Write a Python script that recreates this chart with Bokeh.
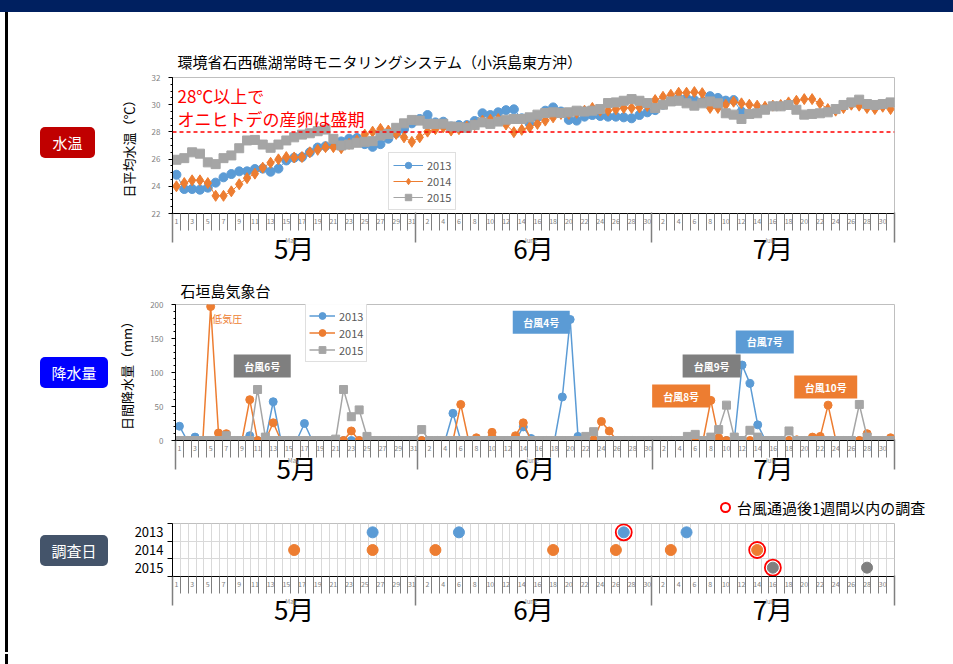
from bokeh.plotting import figure
from bokeh.models import (Range1d, FixedTicker, LinearAxis, Legend, LegendItem, Label, Span, Div)
from bokeh.layouts import column, row
from bokeh.embed import file_html
from bokeh.resources import INLINE
from bokeh.core.properties import value

nan = float("nan")
FONT = "Noto Sans CJK JP"
BLUE, ORANGE, GRAY, DGRAY = "#5B9BD5", "#ED7D31", "#A5A5A5", "#7F7F7F"

# day index 1..92 = May 1 .. July 31
days = list(range(1, 93))
day_labels = {}
for d in range(1, 32, 2):
    day_labels[d] = str(d)
for d in range(2, 31, 2):
    day_labels[31 + d] = str(d)
    day_labels[61 + d] = str(d)
month_centers = [16, 46.5, 77]
month_labels = ["5月", "6月", "7月"]
month_en = ["May", "June", "July"]

# ---- water temperature (daily mean, deg C)
temp_2013 = [24.85, 23.8, 23.8, 23.75, 23.9, 24.27, 24.66, 24.9, 25.1, 25.1, 25.27, 25.3, 25.07, 25.3, 25.9,
             26.1, 26.15, 26.5, 26.85, 26.95, 27.05, 27.3, 27.5, 27.55, 27.1, 26.9, 27.1, 27.5, 27.9, 28.2, 28.63,
             28.95, 29.24, 28.7, 28.75, 28.4, 28.5, 28.5, 28.8, 29.37, 29.24, 29.44, 29.6, 29.66, 29.0, 28.63,
             29.07, 29.56, 29.8, 29.5, 28.88, 28.83, 29.12, 29.24, 29.17, 29.12, 29.12, 29.07, 29.0, 29.24, 29.44,
             29.6, 30.0, 30.3, 30.46, 30.46, 30.34, 30.2, 30.63, 30.5, 30.3, 30.34, 29.5] + [nan] * 19
temp_2014 = [24.0, 24.24, 24.44, 24.44, 24.24, 23.3, 23.3, 23.63, 24.15, 24.6, 24.93, 25.37, 25.73, 25.98, 26.15,
             26.12, 26.15, 26.5, 26.68, 26.88, 26.88, 26.8, 27.12, 27.37, 27.8, 28.02, 28.22, 28.1, 27.85, 27.6, 27.27,
             27.6, 28.02, 28.2, 28.34, 28.1, 28.2, 28.4, 28.5, 28.83, 28.9, 28.95, 28.54, 27.98, 28.15, 28.34,
             28.59, 28.83, 29.07, 29.32, 29.32, 29.4, 29.56, 29.76, 29.56, 29.56, 29.66, 29.76, 29.76, 29.8, 29.9,
             30.34, 30.58, 30.73, 30.88, 30.88, 30.93, 30.85, 29.76, 29.76, 30.0, 30.22, 30.1, 30.0, 29.93, 29.85,
             29.93, 29.98, 30.17, 30.29, 30.41, 30.41, 30.1, 29.68, 29.56, 29.76, 30.0, 29.93, 29.76, 29.68, 29.85, 29.68]
temp_2015 = [25.95, 26.07, 26.5, 26.4, 25.76, 25.63, 26.07, 26.27, 26.8, 27.37, 27.41, 27.07, 26.83, 27.07, 27.37,
             27.6, 27.8, 27.9, 28.05, 28.17, 27.49, 27.0, 27.07, 27.2, 27.27, 27.32, 27.73, 27.85, 28.3, 28.63, 28.88,
             28.83, 28.59, 28.59, 28.6, 28.4, 28.35, 28.3, 28.5, 28.7, 28.59, 28.76, 28.9, 28.95, 28.95, 29.07,
             29.27, 29.39, 29.44, 29.39, 29.44, 29.56, 29.5, 29.56, 29.68, 30.12, 30.17, 30.29, 30.41, 30.29, 30.12,
             29.76, 30.0, 30.24, 30.29, 30.1, 29.93, 30.1, 30.24, 30.1, 29.37, 29.27, 28.95, 29.32, 29.37, 29.63,
             29.88, 29.88, 29.98, 29.63, 29.27, 29.32, 29.37, 29.44, 29.68, 29.98, 30.17, 30.37, 30.05, 29.98, 30.05, 30.17]
threshold = 28

# ---- daily rainfall (mm); listed days are non-zero, all others 0
rain_2013_nz = {1: 21, 3: 5, 10: 7, 13: 57, 17: 25, 36: 40, 45: 20, 46: 3, 50: 64, 51: 178, 52: 6,
                70: 2, 73: 111, 74: 84, 75: 23}
rain_2014_nz = {5: 197, 6: 11, 7: 10, 10: 60, 13: 26, 23: 14, 37: 53, 39: 4, 41: 12, 44: 7, 45: 26, 54: 1,
                55: 28, 56: 14, 69: 59, 70: 4, 80: 1, 82: 5, 83: 6, 84: 52, 89: 10, 92: 4}
rain_2015_nz = {7: 7, 11: 75, 12: 5, 21: 2, 22: 75, 23: 35, 24: 45, 25: 6, 32: 16, 53: 6, 54: 13, 66: 6,
                67: 9, 69: 5, 70: 16, 71: 52, 72: 5, 74: 15, 75: 5, 79: 14, 88: 53, 89: 5}
rain_2013 = [rain_2013_nz.get(d, 0) for d in days]
rain_2014 = [rain_2014_nz.get(d, 0) for d in days]
rain_2015 = [rain_2015_nz.get(d, 0) for d in days]

typhoon_text = ["台風6号", "台風4号", "台風7号", "台風9号", "台風8号", "台風10号"]
typhoon_x = [11.6, 47.3, 75.9, 69.1, 65.2, 83.7]
typhoon_y = [109.5, 174, 145, 109.5, 65.4, 78.6]
typhoon_w = [57, 57, 58, 58, 58, 63]
typhoon_color = [DGRAY, BLUE, BLUE, DGRAY, ORANGE, ORANGE]

# ---- survey days
survey = {2013: [26, 37, 58, 66], 2014: [16, 26, 34, 49, 57, 64, 75], 2015: [77, 89]}
survey_color = {2013: BLUE, 2014: ORANGE, 2015: DGRAY}
after_typhoon_day = [58, 75, 77]
after_typhoon_year = [2013, 2014, 2015]
year_row = {2013: 2.5, 2014: 1.5, 2015: 0.5}

boundaries = [d + 0.5 for d in range(0, 93)]
month_bounds = [0.5, 31.5, 61.5, 92.5]


def add_date_axes(p, month_standoff):
    ax = LinearAxis(ticker=FixedTicker(ticks=sorted(day_labels), minor_ticks=boundaries))
    ax.major_label_overrides = dict(day_labels)
    ax.major_tick_out = 0
    ax.major_tick_in = 0
    ax.minor_tick_out = 17
    ax.minor_tick_in = 0
    ax.minor_tick_line_color = "#7F7F7F"
    ax.axis_line_color = "black"
    ax.major_label_text_font_size = "7px"
    ax.major_label_text_color = "#808080"
    ax.major_label_text_font = FONT
    ax.major_label_standoff = -13
    p.add_layout(ax, "below")
    ax2 = LinearAxis(ticker=FixedTicker(ticks=month_centers, minor_ticks=month_bounds))
    ax2.major_label_overrides = dict(zip(month_centers, month_labels))
    ax2.axis_line_color = None
    ax2.major_tick_out = 0
    ax2.major_tick_in = 0
    ax2.minor_tick_in = 14
    ax2.minor_tick_out = 16
    ax2.minor_tick_line_color = "#7F7F7F"
    ax2.minor_tick_line_width = 1.5
    ax2.major_label_text_font_size = "26px"
    ax2.major_label_text_font = FONT
    ax2.major_label_text_color = "black"
    ax2.major_label_standoff = month_standoff
    p.add_layout(ax2, "below")
    en_pos = [c - 0.4 for c in month_centers]
    ax3 = LinearAxis(ticker=FixedTicker(ticks=en_pos))
    ax3.major_label_overrides = dict(zip(en_pos, month_en))
    ax3.axis_line_color = None
    ax3.major_tick_out = 0
    ax3.major_tick_in = 0
    ax3.major_label_text_font_size = "6px"
    ax3.major_label_text_font = FONT
    ax3.major_label_text_color = "#8C8C8C"
    ax3.major_label_standoff = -33
    p.add_layout(ax3, "below")


def style_yaxis(ax, ticks, minors, label):
    ax.ticker = FixedTicker(ticks=ticks, minor_ticks=minors)
    ax.axis_line_color = "black"
    ax.major_tick_line_color = "black"
    ax.minor_tick_line_color = "black"
    ax.major_tick_out = 4
    ax.major_tick_in = 0
    ax.minor_tick_out = 2
    ax.minor_tick_in = 0
    ax.major_label_text_font_size = "8px"
    ax.major_label_text_color = "#7F7F7F"
    ax.major_label_text_font = FONT
    ax.major_label_standoff = 8
    ax.axis_label = label
    ax.axis_label_text_font = FONT
    ax.axis_label_text_font_size = "13px"
    ax.axis_label_text_font_style = "normal"
    ax.axis_label_text_color = "black"
    ax.axis_label_standoff = 11


def left_div(height, inner="", width=114):
    html = (f'<div style="margin-left:5px;border-left:3px solid #000;height:{height}px;">{inner}</div>')
    return Div(text=html, width=width, height=height, margin=0)


def tag_div(text, top, w, color, height):
    inner = (f'<div style="padding-top:{top}px;padding-left:32px;">'
             f'<div style="width:{w}px;height:31px;line-height:31px;background:{color};color:white;'
             f'border-radius:5px;text-align:center;font-family:\'Noto Sans CJK JP\';font-size:15px;">'
             f'{text}</div></div>')
    return left_div(height, inner)


FW = 839
common = dict(width=FW, output_backend="svg", toolbar_location=None, x_axis_location=None,
              min_border_left=58, min_border_right=59, x_range=Range1d(0.5, 92.5))

# ================= panel 1 : water temperature
H1 = 259
p1 = figure(height=H1, y_range=Range1d(22, 32), min_border_top=65, min_border_bottom=58,
            title="環境省石西礁湖常時モニタリングシステム（小浜島東方沖）", **common)
p1.grid.visible = False
p1.outline_line_color = "#BFBFBF"
p1.title.text_font = FONT
p1.title.text_font_size = "15px"
p1.title.text_font_style = "normal"
p1.title.text_color = "black"
p1.title.offset = 5
p1.title.standoff = 11
style_yaxis(p1.yaxis[0], [22, 24, 26, 28, 30, 32], [x / 2 for x in range(44, 65)], "日平均水温（℃）")
add_date_axes(p1, -14)
p1.add_layout(Span(location=threshold, dimension="width", line_color="#FF0000", line_dash="4 3", line_width=1.5))
items = []
for yr, data, col, mk in [("2013", temp_2013, BLUE, "circle"), ("2014", temp_2014, ORANGE, "diamond"),
                          ("2015", temp_2015, GRAY, "square")]:
    l = p1.line(days, data, line_color=col, line_width=1)
    s = p1.scatter(days, data, marker=mk, size=9 if mk != "diamond" else 11, fill_color=col, line_color=col)
    items.append(LegendItem(label=yr, renderers=[l, s]))
leg = Legend(items=items, location=(216, 3), label_text_font_size="11px", label_text_color="#595959",
             label_text_font=FONT, glyph_width=30, glyph_height=16, spacing=0, padding=4, margin=0,
             border_line_color="#BFBFBF", label_standoff=4)
p1.add_layout(leg)
p1.add_layout(Label(x=5, y=118, x_units="screen", y_units="screen", text="28℃以上で", text_color="#FF0000",
                    text_font=FONT, text_font_size="17px", text_baseline="middle"))
p1.add_layout(Label(x=5, y=95, x_units="screen", y_units="screen", text="オニヒトデの産卵は盛期",
                    text_color="#FF0000", text_font=FONT, text_font_size="17px", text_baseline="middle"))

# ================= panel 2 : rainfall
H2 = 227
p2 = figure(height=H2, y_range=Range1d(0, 200), min_border_top=33, min_border_bottom=58,
            title="石垣島気象台", **common)
p2.grid.visible = False
p2.outline_line_color = "#BFBFBF"
p2.title.text_font = FONT
p2.title.text_font_size = "15px"
p2.title.text_font_style = "normal"
p2.title.text_color = "black"
p2.title.offset = 5
p2.title.standoff = 8
style_yaxis(p2.yaxis[0], [0, 50, 100, 150, 200], list(range(0, 201, 10)), "日間降水量（mm）")
add_date_axes(p2, -21)
items = []
for yr, data, col, mk in [("2013", rain_2013, BLUE, "circle"), ("2014", rain_2014, ORANGE, "circle"),
                          ("2015", rain_2015, GRAY, "square")]:
    l = p2.line(days, data, line_color=col, line_width=1.5)
    s = p2.scatter(days, data, marker=mk, size=8, fill_color=col, line_color=col)
    items.append(LegendItem(label=yr, renderers=[l, s]))
leg2 = Legend(items=items, location=(130, 78), label_text_font_size="11px", label_text_color="#595959",
              label_text_font=FONT, glyph_width=26, glyph_height=17, spacing=0, padding=3, margin=0,
              border_line_color="#BFBFBF", label_standoff=4)
p2.add_layout(leg2)
p2.rect(typhoon_x, typhoon_y, width=typhoon_w, height=23, width_units="screen", height_units="screen",
        fill_color=typhoon_color, line_color=None)
p2.text(typhoon_x, typhoon_y, text=typhoon_text, text_color="white", text_font=value(FONT),
        text_font_size="10px", text_font_style="bold", text_align="center", text_baseline="middle")
p2.add_layout(Label(x=5.2, y=179, text="低気圧", text_color=ORANGE, text_font=FONT, text_font_size="10px",
                    text_baseline="middle"))

# ================= panel 3 : survey days
H3 = 135
p3 = figure(height=H3, y_range=Range1d(0, 3), min_border_top=6, min_border_bottom=76, **common)
p3.outline_line_color = "#BFBFBF"
p3.xgrid.ticker = FixedTicker(ticks=boundaries)
p3.ygrid.ticker = FixedTicker(ticks=[1, 2])
p3.grid.grid_line_color = "#D9D9D9"
ya = p3.yaxis[0]
ya.ticker = FixedTicker(ticks=[0.5, 1.5, 2.5], minor_ticks=[0, 1, 2, 3])
ya.major_label_overrides = {2.5: "2013", 1.5: "2014", 0.5: "2015"}
ya.major_tick_out = 0
ya.major_tick_in = 0
ya.minor_tick_out = 5
ya.minor_tick_in = 0
ya.minor_tick_line_color = "black"
ya.axis_line_color = "black"
ya.major_label_text_font = FONT
ya.major_label_text_font_size = "13px"
ya.major_label_text_color = "black"
ya.major_label_standoff = 4
add_date_axes(p3, -16)
p3.scatter(after_typhoon_day, [year_row[y] for y in after_typhoon_year], marker="circle", size=16,
           fill_color="white", line_color="#FF0000", line_width=1.8)
for yr in [2013, 2014, 2015]:
    p3.scatter(survey[yr], [year_row[yr]] * len(survey[yr]), marker="circle", size=11,
               fill_color=survey_color[yr], line_color=survey_color[yr])

ring_inner = ('<div style="padding-left:712px;height:19px;display:flex;align-items:center;'
              'font-family:\'Noto Sans CJK JP\';font-size:15px;color:black;white-space:nowrap;">'
              '<span style="display:inline-block;width:11px;height:11px;border:2px solid #FF0000;'
              'border-radius:50%;margin-right:6px;"></span>台風通過後1週間以内の調査</div>')
ring_div = left_div(19, ring_inner, width=953)

band = Div(text="", width=953, height=12, margin=0, styles={"background-color": "#002060"})
layout = column(
    band,
    row(tag_div("水温", 115, 55, "#C00000", H1), p1, spacing=0),
    row(tag_div("降水量", 86, 68, "#0000FF", H2), p2, spacing=0),
    ring_div,
    row(tag_div("調査日", 18, 68, "#44546A", H3), p3, spacing=0),
    left_div(10, width=953),
    spacing=0)
open("out.html", "w").write(file_html(layout, INLINE))
